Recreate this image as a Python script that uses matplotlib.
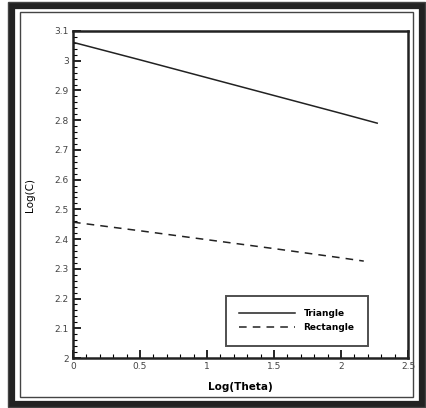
import numpy as np
import matplotlib.pyplot as plt
from matplotlib.patches import Rectangle
from matplotlib.ticker import MultipleLocator, FormatStrFormatter

# values
log_theta_tri = [0.0, 0.5, 1.0, 1.5, 2.0, 2.27]
log_c_tri = [3.062, 3.003, 2.943, 2.883, 2.823, 2.790]
log_theta_rect = [0.0, 0.5, 1.0, 1.5, 2.0, 2.17]
log_c_rect = [2.457, 2.428, 2.398, 2.368, 2.337, 2.326]

W, H = 426, 408
fig = plt.figure(figsize=(W / 100, H / 100), dpi=100)
fig.patch.set_facecolor('white')

# scanned frame around the figure
fig.patches.append(Rectangle((12 / W, 4 / H), 410 / W, 398 / H, transform=fig.transFigure,
                             fill=False, lw=4.5, ec='#222222'))
fig.patches.append(Rectangle((8 / W, 1 / H), 417 / W, 405 / H, transform=fig.transFigure,
                             fill=False, lw=1.0, ec='#444444'))
fig.patches.append(Rectangle((20 / W, 11 / H), 393 / W, 385 / H, transform=fig.transFigure,
                             fill=False, lw=1.0, ec='#444444'))

ax = fig.add_axes([73 / W, (H - 358) / H, (408 - 73) / W, (358 - 31) / H])
ax.plot(log_theta_tri, log_c_tri, color='#222222', lw=1.1, label='Triangle')
ax.plot(log_theta_rect, log_c_rect, color='#222222', lw=1.1, ls=(0, (5, 4)), label='Rectangle')

ax.set_xlim(0, 2.5)
ax.set_ylim(2.0, 3.1)
ax.xaxis.set_major_locator(MultipleLocator(0.5))
ax.xaxis.set_minor_locator(MultipleLocator(0.1))
ax.yaxis.set_major_locator(MultipleLocator(0.1))
ax.yaxis.set_minor_locator(MultipleLocator(0.02))
ax.xaxis.set_major_formatter(FormatStrFormatter('%g'))
ax.yaxis.set_major_formatter(FormatStrFormatter('%g'))
ax.tick_params(which='major', direction='in', length=6, width=1.2, labelsize=6.5,
               labelcolor='#444444', pad=3)
ax.tick_params(which='minor', direction='in', length=3, width=0.8)
for s in ax.spines.values():
    s.set_linewidth(1.8)
    s.set_color('#222222')

ax.set_xlabel('Log(Theta)', fontsize=7.5, fontweight='bold', labelpad=8)
ax.set_ylabel('Log(C)', fontsize=7.5, labelpad=14)

leg = ax.legend(loc='lower right', bbox_to_anchor=(0.881, 0.037), fontsize=6.5, frameon=True,
                fancybox=False, edgecolor='#222222', handlelength=6.2, handletextpad=0.9,
                borderpad=1.5, labelspacing=0.55, borderaxespad=0,
                prop={'size': 6.5, 'weight': 'bold'})
leg.get_frame().set_linewidth(1.4)

fig.savefig('out.png', dpi=100)
